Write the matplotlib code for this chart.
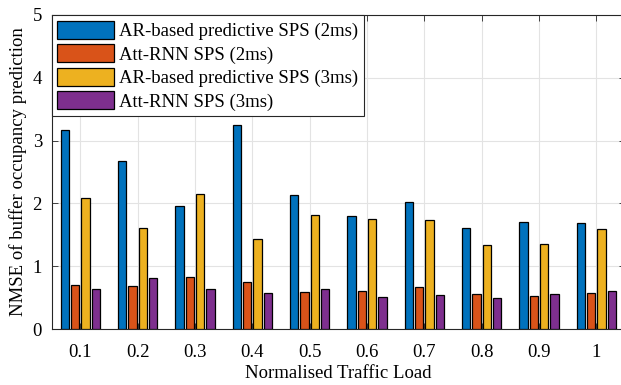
import numpy as np
import matplotlib
matplotlib.use("Agg")
import matplotlib.pyplot as plt

plt.rcParams['font.family'] = ['Liberation Serif', 'DejaVu Serif']

# data
loads = [0.1, 0.2, 0.3, 0.4, 0.5, 0.6, 0.7, 0.8, 0.9, 1.0]
tick_labels = ['0.1', '0.2', '0.3', '0.4', '0.5', '0.6', '0.7', '0.8', '0.9', '1']
ar_2ms = [3.17, 2.68, 1.96, 3.25, 2.13, 1.80, 2.02, 1.61, 1.70, 1.69]
rnn_2ms = [0.70, 0.68, 0.83, 0.75, 0.59, 0.61, 0.67, 0.56, 0.53, 0.58]
ar_3ms = [2.09, 1.61, 2.15, 1.43, 1.82, 1.75, 1.74, 1.34, 1.35, 1.59]
rnn_3ms = [0.64, 0.81, 0.64, 0.57, 0.64, 0.51, 0.54, 0.49, 0.55, 0.60]

series = [ar_2ms, rnn_2ms, ar_3ms, rnn_3ms]
names = ['AR-based predictive SPS (2ms)', 'Att-RNN SPS (2ms)',
         'AR-based predictive SPS (3ms)', 'Att-RNN SPS (3ms)']
colors = ['#0072BD', '#D95319', '#EDB120', '#7E2F8E']

fig = plt.figure(figsize=(6.21, 3.85), dpi=100)
ax = fig.add_axes([51.7 / 621, 1 - 329 / 385, 573.3 / 621, 314 / 385])

x = np.array(loads)
step = 0.018
width = 0.0148
for i, (vals, name, c) in enumerate(zip(series, names, colors)):
    ax.bar(x + (i - 1.5) * step, vals, width, color=c, edgecolor='black',
           linewidth=0.9, label=name, zorder=3)

ax.set_xlim(0.05, 1.05)
ax.set_ylim(0, 5)
ax.set_xticks(loads)
ax.set_xticklabels(tick_labels)
ax.set_yticks([0, 1, 2, 3, 4, 5])
ax.tick_params(direction='in', top=True, right=True, length=4, width=0.6,
               labelsize=13.5, color='#262626')
ax.tick_params(axis='x', pad=11)
ax.tick_params(axis='y', pad=7)
ax.grid(True, color='#e3e3e3', linewidth=0.8, zorder=0)
ax.set_axisbelow(True)
for s in ax.spines.values():
    s.set_color('#262626')
    s.set_linewidth(0.8)

ax.set_xlabel('Normalised Traffic Load', fontsize=13.5, labelpad=3)
ax.set_ylabel('NMSE of buffer occupancy prediction', fontsize=13.5, labelpad=4)

leg = ax.legend(loc='upper left', borderaxespad=0, fontsize=13.5,
                handlelength=3.0, handleheight=1.1, handletextpad=0.3,
                labelspacing=0.22, borderpad=0.3, fancybox=False,
                framealpha=1, edgecolor='#262626')
leg.get_frame().set_linewidth(0.8)

fig.savefig('out.png', dpi=100)
